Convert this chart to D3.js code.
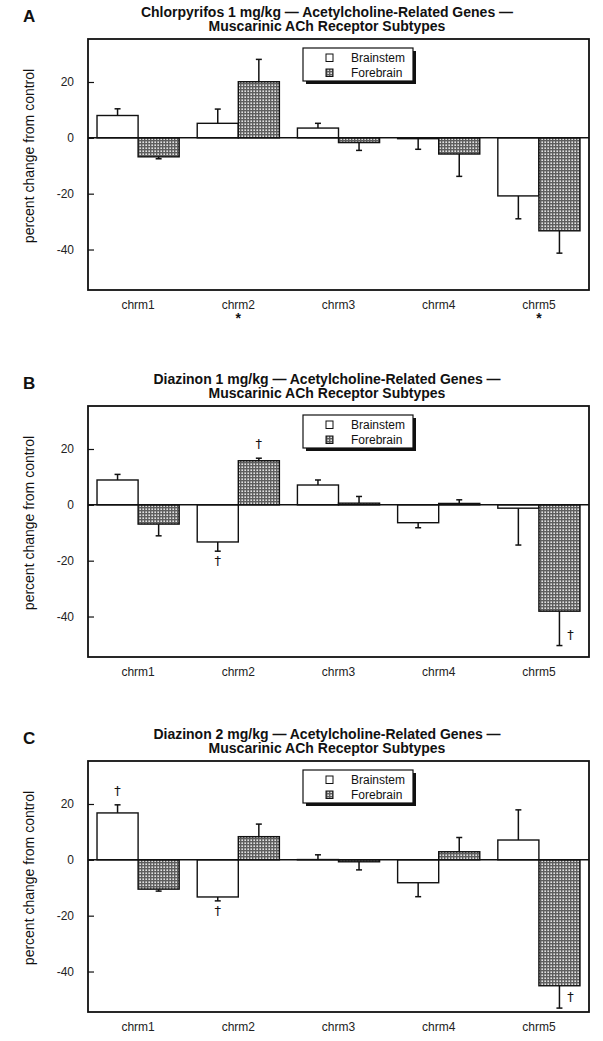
<!DOCTYPE html>
<html lang="en">
<head>
<meta charset="utf-8">
<style>
  body { margin: 0; background: #fff; }
  text { font-family: "Liberation Sans", Arial, Helvetica, sans-serif; fill: #111; }
  .title { font-size: 14px; font-weight: bold; }
  .letter { font-size: 17px; font-weight: bold; }
  .ylab { font-size: 14px; }
  .axis text { font-size: 12px; fill: #222; }
  .legend text { font-size: 12px; }
  .dagger { font-family: "DejaVu Sans", sans-serif; font-size: 13px; fill: #111; }
</style>
<title>Muscarinic ACh Receptor Subtypes</title>
<script src="https://cdn.jsdelivr.net/npm/d3@7"></script>
</head>
<body>
<script>

// --- data ---
var genes = ["chrm1", "chrm2", "chrm3", "chrm4", "chrm5"];
var regions = ["Brainstem", "Forebrain"];
var yTicks = [20, 0, -20, -40];
var yLabel = "percent change from control";

var panelLetters = ["A", "B", "C"];
var panelTitles = [
  ["Chlorpyrifos 1 mg/kg — Acetylcholine-Related Genes —", "Muscarinic ACh Receptor Subtypes"],
  ["Diazinon 1 mg/kg — Acetylcholine-Related Genes —", "Muscarinic ACh Receptor Subtypes"],
  ["Diazinon 2 mg/kg — Acetylcholine-Related Genes —", "Muscarinic ACh Receptor Subtypes"]
];

var brainstemA = [8, 5.2, 3.5, -0.3, -20.8];
var brainstemErrA = [2.4, 5.1, 1.7, 3.8, 8.2];
var forebrainA = [-6.8, 20.1, -1.7, -5.8, -33.3];
var forebrainErrA = [0.7, 8, 2.8, 8, 8];

var brainstemB = [8.9, -13.3, 7.1, -6.4, -1.2];
var brainstemErrB = [2, 3.3, 1.8, 1.8, 13.2];
var forebrainB = [-6.9, 15.8, 0.6, 0.5, -38.1];
var forebrainErrB = [4.2, 0.9, 2.4, 1.3, 12.3];

var brainstemC = [16.8, -13.3, 0.1, -8.2, 7.1];
var brainstemErrC = [2.9, 1.4, 1.7, 5, 10.8];
var forebrainC = [-10.5, 8.3, -0.7, 2.9, -45.1];
var forebrainErrC = [0.7, 4.5, 2.9, 5.1, 8];

// significance marks: "*" under the gene label, "†" next to a bar
var starsA = ["chrm2", "chrm5"];
var daggersA = [];
var daggersB = [
  { gene: "chrm2", region: "Brainstem", side: "below" },
  { gene: "chrm2", region: "Forebrain", side: "above" },
  { gene: "chrm5", region: "Forebrain", side: "right" }
];
var daggersC = [
  { gene: "chrm1", region: "Brainstem", side: "above" },
  { gene: "chrm2", region: "Brainstem", side: "below" },
  { gene: "chrm5", region: "Forebrain", side: "right" }
];

var panels = [
  { bs: brainstemA, bsErr: brainstemErrA, fb: forebrainA, fbErr: forebrainErrA, stars: starsA, daggers: daggersA },
  { bs: brainstemB, bsErr: brainstemErrB, fb: forebrainB, fbErr: forebrainErrB, stars: [], daggers: daggersB },
  { bs: brainstemC, bsErr: brainstemErrC, fb: forebrainC, fbErr: forebrainErrC, stars: [], daggers: daggersC }
];

// --- layout ---
var width = 603, height = 1041;
var left = 88, plotW = 501, plotH = 251;
var panelTops = [39, 406, 761];

var svg = d3.select("body").append("svg")
  .attr("width", width)
  .attr("height", height);

var defs = svg.append("defs");
var pat = defs.append("pattern")
  .attr("id", "checks")
  .attr("patternUnits", "userSpaceOnUse")
  .attr("width", 3).attr("height", 3);
pat.append("rect").attr("width", 3).attr("height", 3).attr("fill", "#5e5e5e");
pat.append("rect").attr("x", 0.4).attr("y", 0.4).attr("width", 1.6).attr("height", 1.6).attr("fill", "#e2e2e2");

var fills = { Brainstem: "#fff", Forebrain: "url(#checks)" };

var x0 = d3.scaleBand().domain(genes).range([0, plotW]).paddingInner(0.18).paddingOuter(0.09);
var x1 = d3.scaleBand().domain(regions).range([0, x0.bandwidth()]);
var y = d3.scaleLinear().domain([-54.5, 35.4]).range([plotH, 0]);

panels.forEach(function(p, i) {
  var g = svg.append("g").attr("transform", "translate(" + left + "," + panelTops[i] + ")");

  // titles and panel letter
  g.append("text").attr("class", "letter")
    .attr("x", 23 - left).attr("y", -17.5)
    .text(panelLetters[i]);
  g.selectAll(".title").data(panelTitles[i]).enter().append("text")
    .attr("class", "title")
    .attr("x", 327 - left)
    .attr("y", function(d, k) { return -22 + k * 14.4; })
    .attr("text-anchor", "middle")
    .text(function(d) { return d; });

  // y label
  g.append("text").attr("class", "ylab")
    .attr("transform", "translate(" + (34 - left) + "," + (plotH / 2 - 8.5) + ") rotate(-90)")
    .attr("text-anchor", "middle")
    .text(yLabel);

  var rows = [];
  genes.forEach(function(gene, k) {
    rows.push({ gene: gene, region: "Brainstem", v: p.bs[k], e: p.bsErr[k] });
    rows.push({ gene: gene, region: "Forebrain", v: p.fb[k], e: p.fbErr[k] });
  });
  function cx(d) { return x0(d.gene) + x1(d.region) + x1.bandwidth() / 2; }
  function tip(d) { return d.v >= 0 ? d.v + d.e : d.v - d.e; }

  // error bars (one-sided, away from zero)
  var eb = g.selectAll(".err").data(rows).enter().append("g").attr("class", "err");
  eb.append("line")
    .attr("x1", cx).attr("x2", cx)
    .attr("y1", function(d) { return y(d.v); })
    .attr("y2", function(d) { return y(tip(d)); })
    .attr("stroke", "#111").attr("stroke-width", 1.5);
  eb.append("line")
    .attr("x1", function(d) { return cx(d) - 3; })
    .attr("x2", function(d) { return cx(d) + 3; })
    .attr("y1", function(d) { return y(tip(d)); })
    .attr("y2", function(d) { return y(tip(d)); })
    .attr("stroke", "#111").attr("stroke-width", 1.5);

  // bars
  g.selectAll(".bar").data(rows).enter().append("rect")
    .attr("class", "bar")
    .attr("x", function(d) { return x0(d.gene) + x1(d.region); })
    .attr("width", x1.bandwidth())
    .attr("y", function(d) { return y(Math.max(0, d.v)); })
    .attr("height", function(d) { return Math.abs(y(d.v) - y(0)); })
    .attr("fill", function(d) { return fills[d.region]; })
    .attr("stroke", "#111").attr("stroke-width", 1.4);

  // zero line
  g.append("line")
    .attr("x1", 0).attr("x2", plotW)
    .attr("y1", y(0)).attr("y2", y(0))
    .attr("stroke", "#111").attr("stroke-width", 1.5);

  // frame
  g.append("rect")
    .attr("width", plotW).attr("height", plotH)
    .attr("fill", "none").attr("stroke", "#111").attr("stroke-width", 1.8);

  // axes
  var ya = g.append("g").attr("class", "axis")
    .call(d3.axisLeft(y).tickValues(yTicks).tickSize(-6).tickPadding(14)
      .tickFormat(function(d) { return String(d); }));
  ya.select(".domain").remove();
  ya.selectAll(".tick line").attr("stroke", "#111").attr("stroke-width", 1.2);

  var xa = g.append("g").attr("class", "axis")
    .attr("transform", "translate(0," + plotH + ")")
    .call(d3.axisBottom(x0).tickSize(0).tickPadding(10.5));
  xa.select(".domain").remove();

  // stars under gene labels
  g.selectAll(".star").data(p.stars).enter().append("text")
    .attr("x", function(d) { return x0(d) + x0.bandwidth() / 2; })
    .attr("y", plotH + 33)
    .attr("text-anchor", "middle")
    .style("font-size", "14px").style("font-weight", "bold")
    .text("*");

  // daggers
  g.selectAll(".dagger").data(p.daggers).enter().append("text")
    .attr("class", "dagger")
    .attr("x", function(m) {
      var d = rows.find(function(r) { return r.gene === m.gene && r.region === m.region; });
      return m.side === "right" ? cx(d) + 11 : cx(d);
    })
    .attr("y", function(m) {
      var d = rows.find(function(r) { return r.gene === m.gene && r.region === m.region; });
      var t = y(tip(d));
      if (m.side === "above") return t - 10;
      if (m.side === "below") return t + 14;
      return t - 7;
    })
    .attr("text-anchor", "middle")
    .text("†");

  // legend
  var lg = g.append("g").attr("class", "legend").attr("transform", "translate(215,9)");
  lg.append("rect").attr("x", 3).attr("y", 3).attr("width", 110).attr("height", 33).attr("fill", "#111");
  lg.append("rect").attr("width", 110).attr("height", 33)
    .attr("fill", "#fff").attr("stroke", "#111").attr("stroke-width", 1.2);
  var li = lg.selectAll(".item").data(regions).enter().append("g")
    .attr("transform", function(d, k) { return "translate(0," + (6 + k * 15) + ")"; });
  li.append("rect").attr("x", 23).attr("width", 7).attr("height", 7.5)
    .attr("fill", function(d) { return fills[d]; })
    .attr("stroke", "#111").attr("stroke-width", 1);
  li.append("text").attr("x", 48).attr("y", 7.5).text(function(d) { return d; });
});

</script>
</body>
</html>
